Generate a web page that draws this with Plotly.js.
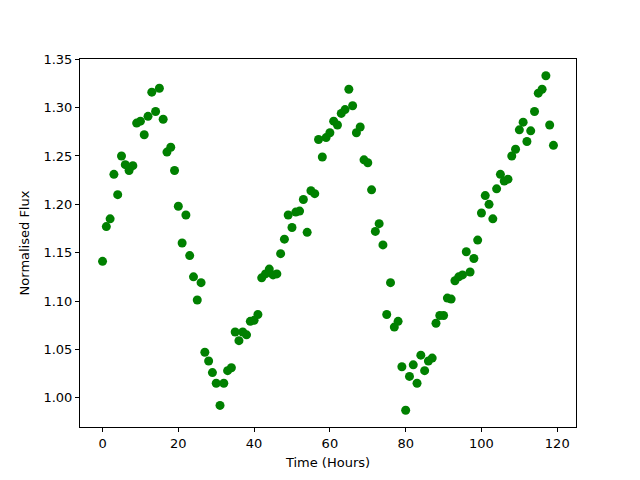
<!DOCTYPE html>
<html>
<head>
<meta charset="utf-8">
<script src="https://cdn.plot.ly/plotly-3.0.1.min.js"></script>
<style>html,body{margin:0;padding:0;background:#fff}</style>
</head>
<body>
<div id="chart" style="width:640px;height:480px"></div>
<script>
const timeHours = [];
for (let i = 0; i < 120; i++) timeHours.push(i);
const normalisedFlux = [
1.141,1.177,1.185,1.231,1.210,1.250,1.241,1.235,1.240,1.284,
1.286,1.272,1.291,1.316,1.296,1.320,1.288,1.254,1.259,1.235,
1.198,1.160,1.189,1.147,1.125,1.101,1.119,1.047,1.038,1.026,
1.015,0.992,1.015,1.028,1.031,1.068,1.059,1.068,1.065,1.079,
1.080,1.086,1.124,1.128,1.133,1.127,1.128,1.149,1.164,1.189,
1.176,1.192,1.193,1.205,1.171,1.214,1.211,1.267,1.249,1.269,
1.274,1.286,1.282,1.294,1.298,1.319,1.302,1.274,1.280,1.246,
1.243,1.215,1.172,1.180,1.158,1.086,1.119,1.073,1.079,1.032,
0.987,1.022,1.034,1.015,1.044,1.028,1.038,1.041,1.077,1.085,
1.085,1.103,1.102,1.121,1.125,1.127,1.151,1.130,1.144,1.163,
1.191,1.209,1.200,1.185,1.216,1.231,1.224,1.226,1.250,1.257,
1.277,1.285,1.265,1.276,1.296,1.315,1.319,1.333,1.282,1.261
];
const xTicks = [0,20,40,60,80,100,120];
const yTicks = [1.00,1.05,1.10,1.15,1.20,1.25,1.30,1.35];

const axisCommon = {
  showgrid: false, zeroline: false, showline: true, mirror: true,
  linecolor: '#000', linewidth: 1, ticks: 'outside', ticklen: 4,
  tickcolor: '#000', tickfont: {family: 'DejaVu Sans', size: 13, color: '#000'}
};
Plotly.newPlot('chart', [{
  x: timeHours, y: normalisedFlux, type: 'scatter', mode: 'markers',
  marker: {color: '#008000', size: 9}
}], {
  width: 640, height: 480,
  margin: {l: 80, r: 64, t: 59, b: 53},
  paper_bgcolor: '#fff', plot_bgcolor: '#fff',
  showlegend: false,
  xaxis: Object.assign({}, axisCommon, {
    range: [-5.95, 124.95], tickvals: xTicks, ticktext: xTicks.map(String),
    title: {text: 'Time (Hours)', font: {family: 'DejaVu Sans', size: 13, color: '#000'}, standoff: 8}
  }),
  yaxis: Object.assign({}, axisCommon, {
    range: [0.9697, 1.3503], tickvals: yTicks, ticktext: yTicks.map(v => v.toFixed(2)),
    title: {text: 'Normalised Flux', font: {family: 'DejaVu Sans', size: 13, color: '#000'}, standoff: 10}
  })
}, {staticPlot: true});
</script>
</body>
</html>
